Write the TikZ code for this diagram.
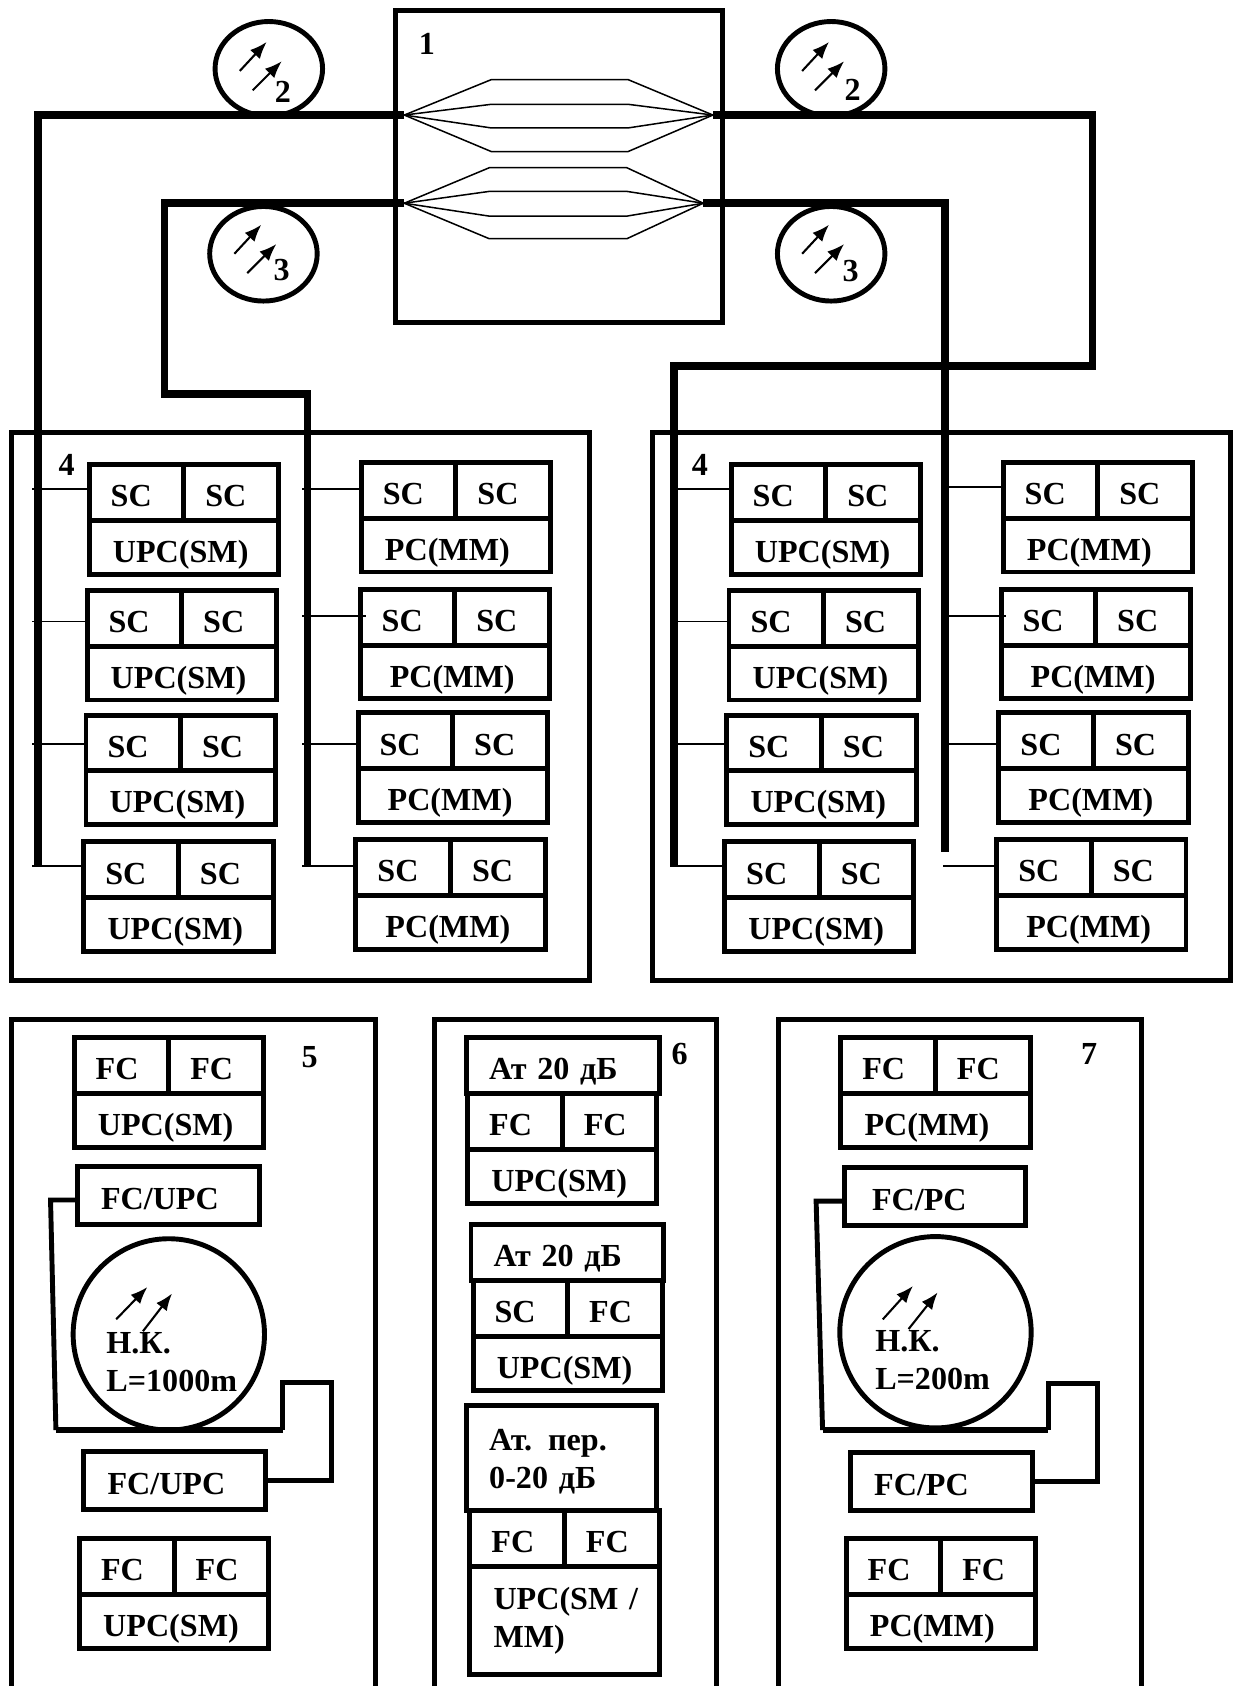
\documentclass[tikz,border=0pt]{standalone}
\usepackage{fontspec}
\setmainfont{Liberation Serif}
\usepackage{tikz}
\usetikzlibrary{shapes,arrows.meta,positioning,calc}

\tikzset{
  every node/.style={font=\bfseries\fontsize{17}{19.2}\selectfont, inner sep=0pt, outer sep=0pt},
  boxline/.style={line width=2.6pt},
  wire/.style={line width=4.2pt},
  thinwire/.style={line width=1pt},
  fibre/.style={line width=0.8pt},
  ray/.style={line width=1.1pt, -{Latex[length=9pt,width=7pt]}},
  cellbox/.style={boxline, draw, anchor=north west, minimum width=1.76cm, minimum height=1.04cm,
    text width=0.96cm, align=left, text height=15pt, text depth=0pt},
  lowbox/.style={boxline, draw, anchor=north west, minimum width=3.52cm, minimum height=1cm,
    text width=2.64cm, align=left, text height=16pt, text depth=0pt},
  tagbox/.style={boxline, draw, anchor=north west, minimum width=3.38cm, minimum height=1.08cm,
    text width=2.5cm, align=left, text height=15pt, text depth=0pt},
  attbox/.style={boxline, draw, anchor=north west, minimum width=3.58cm, minimum height=1.04cm,
    text width=2.74cm, align=left, text height=15pt, text depth=0pt},
  detector/.style={boxline, draw, ellipse, minimum width=2cm, minimum height=1.76cm},
  coil/.style={boxline, draw, circle, minimum size=3.56cm}
}

\newcommand{\connbox}[7][]{%
  \node[cellbox] (#2-l) at (#3,#4) {#5};
  \node[cellbox] (#2-r) at (#2-l.north east) {#6};
  \node[lowbox,#1] (#2-b) at (#2-l.south west) {#7};
}

\begin{document}
\begin{tikzpicture}[x=0.02cm,y=-0.02cm]
  \useasboundingbox (0,0) rectangle (1156,1568);

  \draw[boxline] (368,10) rectangle (672,300);
  \draw[boxline] (11,402) rectangle (548,912);
  \draw[boxline] (607,402) rectangle (1144,912);
  \draw[boxline] (11,1568) -- (11,948) -- (349,948) -- (349,1568);
  \draw[boxline] (404,1568) -- (404,948) -- (666,948) -- (666,1568);
  \draw[boxline] (724,1568) -- (724,948) -- (1062,948) -- (1062,1568);

  \node (num1) at (397,41) {1};
  \node (num4a) at (62,432) {4};
  \node (num4b) at (651,432) {4};
  \node (num5) at (288,983) {5};
  \node (num6) at (632,980) {6};
  \node (num7) at (1013,980) {7};

  \coordinate (aptl) at (376,107);
  \coordinate (aptr) at (663,107);
  \coordinate (apbl) at (376,189);
  \coordinate (apbr) at (654,189);
  \foreach \y in {74,97,119,141}
    \draw[fibre] (aptl) -- (457,\y) -- (584,\y) -- (aptr);
  \foreach \y in {156,178,201,222}
    \draw[fibre] (apbl) -- (455,\y) -- (583,\y) -- (apbr);

  \foreach \n/\x/\y/\t/\u/\v/\d in {a/250/64/2/13/21/0, b/773/64/2/20/20/0, c/245/236/3/17/15/2, d/773/236/3/18/16/2} {
    \node[detector] (det-\n) at (\x,\y) {};
    \draw[ray] ($(det-\n)+(-27,2-\d)$) -- ($(det-\n)+(-2,-25-\d)$);
    \draw[ray] ($(det-\n)+(-15,20-\d)$) -- ($(det-\n)+(12,-7-\d)$);
    \node (det-\n-t) at ($(det-\n)+(\u,\v)$) {\t};
  }

  \coordinate (ga) at (35,806);
  \coordinate (gb1) at (153,366);
  \coordinate (gb2) at (286,806);
  \coordinate (gc1) at (1016,340);
  \coordinate (gc2) at (627,806);
  \coordinate (gd) at (879,792);
  \draw[wire] (aptl) -| (ga);
  \draw[wire] (apbl) -| (gb1) -| (gb2);
  \draw[wire] (aptr) -| (gc1) -| (gc2);
  \draw[wire] (apbr) -| (gd);

  \foreach \n/\x/\y in {la/83/432, lb/81/549, lc/80/665, ld/78/783, ra/680/432, rb/678/549, rc/676/665, rd/674/783} {
    \connbox{\n}{\x}{\y}{SC}{SC}{UPC(SM)}
  }
  \foreach \n/\x/\y/\w in {ma/336/430/2.64, mb/335/548/2.42, mc/333/663/2.42, md/331/781/2.42, sa/933/430/2.64, sb/931/548/2.42, sc/929/663/2.42, sd/927/781/2.42} {
    \connbox[text width=\w cm]{\n}{\x}{\y}{SC}{SC}{PC(MM)}
  }

  \foreach \n/\x/\s/\e in {la/30/455/0, lb/30/578/0, lc/30/692/0, ld/30/805/0,
      ma/281/455/0, mb/281/573/5, mc/281/692/0, md/281/805/0,
      ra/630/455/0, rb/630/578/0, rc/630/692/0, rd/630/805/0,
      sa/880/453/0, sb/880/573/5, sc/880/692/0, sd/877/805/0} {
    \coordinate (st-\n) at (\x,\s);
    \draw[thinwire] (st-\n) -- ($(st-\n -| \n-l.west)+(\e,0)$);
  }

  % panel 5
  \connbox{fa}{69}{965}{FC}{FC}{UPC(SM)}
  \node[tagbox] (fua) at (72,1085) {FC/UPC};
  \node[coil] (cla) at (157,1241) {};
  \draw[ray] ($(cla)+(-49,-14)$) -- ($(cla)+(-20,-44)$);
  \draw[ray] ($(cla)+(-24,-3)$) -- ($(cla)+(3,-38)$);
  \node[anchor=west, align=left] (nka) at (99,1267) {Н.К.\\[1pt]L=1000m};
  \node[tagbox] (fub) at (78,1350) {FC/UPC};
  \connbox{fb}{74}{1431}{FC}{FC}{UPC(SM)}
  \coordinate (ca1) at (47,1116);
  \coordinate (ca2) at (52,1330);
  \coordinate (ca3) at (263,1330);
  \coordinate (ca4) at (308,1286);
  \draw[boxline] (ca1 -| fua.west) -- (ca1) -- (ca2);
  \draw[line width=3.4pt] (ca2) -- (ca3);
  \draw[boxline] (ca3) |- (ca4) |- (fub.east);

  % panel 6
  \node[attbox] (ata) at (434,965) {Ат 20 дБ};
  \connbox{ga}{435}{1017}{FC}{FC}{UPC(SM)}
  \node[attbox] (atb) at (438,1139) {Ат 20 дБ};
  \connbox{gb}{440}{1191}{SC}{FC}{UPC(SM)}
  \node[tagbox, minimum width=3.54cm, minimum height=1.96cm, text width=2.7cm, text height=, text depth=] (atc) at (434,1307) {\rule{0pt}{15pt}Ат. пер.\\[1pt]0-20 дБ};
  \connbox[minimum height=2cm, text height=, text depth=]{gc}{437}{1405}{FC}{FC}{\mbox{UPC(SM /}\\[1pt]MM)}

  % panel 7
  \connbox{pa}{782}{965}{FC}{FC}{PC(MM)}
  \node[tagbox, text width=2.34cm] (fpa) at (785,1086) {FC/PC};
  \node[coil] (clb) at (870,1239) {};
  \draw[ray] ($(clb)+(-49,-12)$) -- ($(clb)+(-21,-43)$);
  \draw[ray] ($(clb)+(-25,-3)$) -- ($(clb)+(2,-37)$);
  \node[anchor=west, align=left] (nkb) at (814,1265) {Н.К.\\[1pt]L=200m};
  \node[tagbox] (fpb) at (791,1351) {FC/PC};
  \connbox{pb}{787}{1431}{FC}{FC}{PC(MM)}
  \coordinate (cb1) at (759,1117);
  \coordinate (cb2) at (765,1330);
  \coordinate (cb3) at (975,1330);
  \coordinate (cb4) at (1021,1287);
  \draw[boxline] (cb1 -| fpa.west) -- (cb1) -- (cb2);
  \draw[line width=3.4pt] (cb2) -- (cb3);
  \draw[boxline] (cb3) |- (cb4) |- (fpb.east);
\end{tikzpicture}
\end{document}
